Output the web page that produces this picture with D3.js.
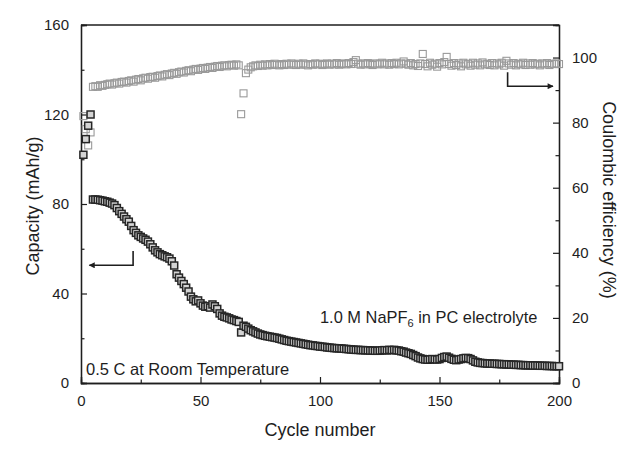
<!DOCTYPE html>
<html><head><meta charset="utf-8">
<script src="https://cdn.jsdelivr.net/npm/d3@7"></script>
<style>body{margin:0;background:#fff}svg{display:block;font-family:"Liberation Sans",Arial,sans-serif}</style>
</head><body><svg id="c" width="629" height="457"></svg>
<script>
const capacity = [
102,109,115,120,82,82,81.9,81.7,81.5,81.2,
81,80.6,80.2,79.5,78.2,76.8,75.6,74.4,73.2,72.1,
70.2,68.3,67.1,66,65.3,64.6,64,63.2,62,60.6,
59.3,58.4,57.6,57.1,56.6,56.2,55.6,54.4,52.5,48.6,
47.1,45.6,44.2,42.6,40.9,38.6,37.4,36.5,36.9,35.6,
34.6,34.1,34.3,33.7,35.1,34.3,33.1,31.1,30.1,29.6,
29.3,28.9,28.4,28.1,27.7,27.3,22.6,25.6,25.1,24.3,
23.6,23.1,22.6,22.1,21.7,21.4,21.1,20.9,20.7,20.5,
20.3,20.1,19.8,19.5,19.2,18.9,18.7,18.5,18.3,18.1,
17.9,17.7,17.5,17.3,17.1,16.9,16.8,16.6,16.5,16.3,
16.2,16.1,15.9,15.8,15.7,15.6,15.5,15.5,15.4,15.3,
15.2,15.1,15.0,14.9,14.8,14.8,14.7,14.7,14.6,14.6,
14.5,14.5,14.4,14.4,14.5,14.6,14.7,14.6,14.8,14.7,
14.8,14.6,14.5,14.2,14.0,13.6,13.3,13.0,12.5,12.0,
11.4,11.0,10.7,10.5,10.4,10.5,10.7,10.6,10.5,10.7,
11.2,11.6,11.8,11.3,10.8,10.4,10.2,10.5,10.7,11.0,
11.2,11.1,10.7,10.1,9.5,9.2,9.0,8.9,8.8,8.7,
8.7,8.6,8.6,8.5,8.5,8.4,8.4,8.3,8.3,8.2,
8.2,8.1,8.1,8.0,8.0,7.9,7.9,7.9,7.8,7.8,
7.8,7.7,7.7,7.7,7.6,7.6,7.6,7.5,7.5,7.5];
const efficiency = [
82,78,73,77,91,91.2,91.0,91.5,91.3,91.6,
91.8,92.0,91.7,92.1,92.3,92.0,92.5,92.6,92.3,92.8,
93.0,92.6,93.2,93.4,93.0,93.6,93.8,93.5,94.0,94.1,
93.8,94.3,94.5,94.2,94.7,94.9,94.6,95.1,95.3,95.0,
95.5,95.7,95.4,95.9,96.1,95.8,96.3,96.5,96.2,96.6,
96.8,96.5,96.9,97.1,96.8,97.2,97.4,97.1,97.5,97.6,
97.3,97.7,97.8,97.5,97.9,97.6,82.6,89.0,95.2,96.3,
97.0,97.3,97.6,97.4,97.8,97.5,97.9,97.6,98.0,97.7,
98.1,97.8,97.6,98.0,97.7,98.1,97.8,98.2,97.9,97.7,
98.1,97.8,98.2,97.9,97.6,98.0,97.8,98.2,97.9,98.1,
97.7,98.0,98.2,97.8,98.1,97.9,98.3,97.8,98.0,98.2,
97.9,98.3,98.0,98.6,99.2,98.1,97.8,98.2,97.9,98.3,
98.0,97.7,98.2,97.9,98.1,98.4,97.9,98.2,97.8,98.3,
98.0,98.4,97.9,98.2,98.8,98.1,97.8,98.3,97.6,98.0,
97.4,98.2,101.1,98.0,97.3,98.4,97.8,98.1,97.2,98.3,
97.9,98.6,100.2,98.0,97.5,98.3,97.7,98.2,97.3,98.4,
97.9,98.1,97.5,98.4,97.8,98.2,97.6,98.5,97.9,98.1,
97.7,98.3,97.6,98.2,97.9,98.4,97.5,99.0,98.2,97.8,
98.3,97.6,98.1,97.9,98.4,97.7,98.2,97.8,98.3,97.9,
98.1,97.6,98.2,97.9,98.3,97.7,98.1,98.0,98.2,98.0];
const cycles = capacity.map((d,i)=>i+1);
const xTicks = [0,50,100,150,200];
const yLeftTicks = [0,40,80,120,160];
const yRightTicks = [0,20,40,60,80,100];

const svg = d3.select("#c");
const L=81, R=559, T=25, B=383;
const x = d3.scaleLinear().domain([0,200]).range([L,R]);
const yL = d3.scaleLinear().domain([0,160]).range([B,T]);
const yR = d3.scaleLinear().domain([0,110]).range([B,T]);
const ink="#1e1e1e";

svg.append("line").attr("x1",L).attr("x2",R).attr("y1",T).attr("y2",T).attr("stroke",ink).attr("stroke-width",1.3);

function styleAxis(g){
  g.select(".domain").attr("stroke",ink).attr("stroke-width",1.3);
  g.selectAll(".tick line").attr("stroke",ink).attr("stroke-width",1.2);
  g.selectAll("text").attr("fill",ink).attr("font-size",15).attr("font-family","Liberation Sans, Arial, sans-serif");
}
svg.append("g").attr("transform",`translate(0,${B})`)
  .call(d3.axisBottom(x).tickValues(d3.range(25,200,50)).tickSize(-3.5).tickFormat("")).call(styleAxis);
svg.append("g").attr("transform",`translate(${L},0)`)
  .call(d3.axisLeft(yL).tickValues(d3.range(20,160,40)).tickSize(-3.5).tickFormat("")).call(styleAxis);
svg.append("g").attr("transform",`translate(${R},0)`)
  .call(d3.axisRight(yR).tickValues(d3.range(10,110,20)).tickSize(-3.5).tickFormat("")).call(styleAxis);

svg.append("g").attr("transform",`translate(0,${B})`)
  .call(d3.axisBottom(x).tickValues(xTicks).tickSize(-6).tickPadding(12)).call(styleAxis);
svg.append("g").attr("transform",`translate(${L},0)`)
  .call(d3.axisLeft(yL).tickValues(yLeftTicks).tickSize(-6).tickPadding(12)).call(styleAxis);
svg.append("g").attr("transform",`translate(${R},0)`)
  .call(d3.axisRight(yR).tickValues(yRightTicks).tickSize(-6).tickPadding(13)).call(styleAxis);

const s=7;
svg.append("g").selectAll("rect").data(efficiency).join("rect")
  .attr("x",(d,i)=>x(cycles[i])-s/2).attr("y",d=>yR(d)-s/2)
  .attr("width",s).attr("height",s)
  .attr("fill","none").attr("stroke","#9a9a9a").attr("stroke-width",1.1);
const s2=7;
svg.append("g").selectAll("rect").data(capacity).join("rect")
  .attr("x",(d,i)=>x(cycles[i])-s2/2).attr("y",d=>yL(d)-s2/2)
  .attr("width",s2).attr("height",s2)
  .attr("fill","#d4d4d4").attr("stroke","#262626").attr("stroke-width",1.5);

svg.append("defs").append("marker").attr("id","ah").attr("viewBox","0 0 10 10")
  .attr("refX",9).attr("refY",5).attr("markerWidth",10).attr("markerHeight",6).attr("markerUnits","userSpaceOnUse").attr("orient","auto")
  .append("path").attr("d","M0,0 L10,5 L0,10 Z").attr("fill",ink);
svg.append("path").attr("d",`M${x(21.8)},${yL(59)} V${yL(52.6)} H${x(3.5)}`)
  .attr("fill","none").attr("stroke",ink).attr("stroke-width",1.6).attr("marker-end","url(#ah)");
svg.append("path").attr("d",`M${x(178.5)},${yR(95.5)} V${yR(91.2)} H${x(197.5)}`)
  .attr("fill","none").attr("stroke",ink).attr("stroke-width",1.6).attr("marker-end","url(#ah)");

const t1 = svg.append("text").attr("x",320).attr("y",323).attr("font-size",16.4).attr("fill",ink);
t1.append("tspan").text("1.0 M NaPF");
t1.append("tspan").text("6").attr("font-size",11).attr("dy",4);
t1.append("tspan").text(" in PC electrolyte").attr("dy",-4);
svg.append("text").attr("x",86).attr("y",375).attr("font-size",16.5).attr("fill",ink).text("0.5 C at Room Temperature");

svg.append("text").attr("x",(L+R)/2).attr("y",436).attr("text-anchor","middle").attr("font-size",18).attr("fill",ink).text("Cycle number");
svg.append("text").attr("transform",`translate(39,${(T+B)/2+2}) rotate(-90)`).attr("text-anchor","middle").attr("font-size",18).attr("fill",ink).text("Capacity (mAh/g)");
svg.append("text").attr("transform",`translate(603,${(T+B)/2-4}) rotate(90)`).attr("text-anchor","middle").attr("font-size",18).attr("fill",ink).text("Coulombic efficiency (%)");
</script></body></html>
